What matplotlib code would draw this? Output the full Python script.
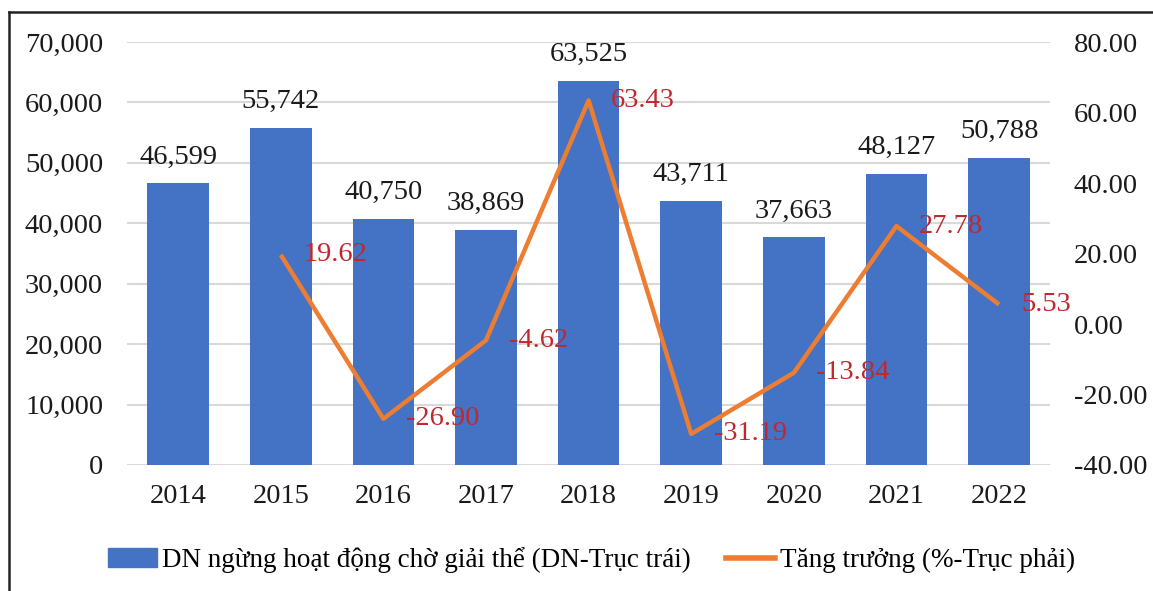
import matplotlib.pyplot as plt
from matplotlib.patches import Rectangle
from matplotlib.lines import Line2D
import numpy as np

years = ["2014", "2015", "2016", "2017", "2018", "2019", "2020", "2021", "2022"]
dn_count = [46599, 55742, 40750, 38869, 63525, 43711, 37663, 48127, 50788]
growth_years = ["2015", "2016", "2017", "2018", "2019", "2020", "2021", "2022"]
growth = [19.62, -26.90, -4.62, 63.43, -31.19, -13.84, 27.78, 5.53]

bar_label = "DN ngừng hoạt động chờ giải thể (DN-Trục trái)"
line_label = "Tăng trưởng (%-Trục phải)"

blue = "#4472C4"
orange = "#ED7D31"
red = "#C0282D"

plt.rcParams["font.family"] = ["Liberation Serif", "DejaVu Serif"]

fig = plt.figure(figsize=(11.53, 5.91), dpi=100)
ax = fig.add_axes([0.110, 0.2132, 0.801, 0.7157])
ax2 = ax.twinx()

x = np.arange(len(years))
ax.bar(x, dn_count, width=0.6, color=blue, zorder=3)
for xi, v in zip(x, dn_count):
    ax.text(xi, v + 2300, f"{v:,}", ha="center", va="bottom", fontsize=20.5, color="#1a1a1a")

ax.set_ylim(0, 70000)
ax.set_yticks(range(0, 70001, 10000))
ax.set_yticklabels([f"{t:,}" for t in range(0, 70001, 10000)])
ax.set_xlim(-0.5, len(years) - 0.5)
ax.set_xticks(x)
ax.set_xticklabels(years)
ax.grid(axis="y", color="#D9D9D9", linewidth=1.5, zorder=0)
ax.set_axisbelow(True)

gx = [years.index(y) for y in growth_years]
ax2.plot(gx, growth, color=orange, linewidth=3.2, solid_capstyle="butt", zorder=4)
for xi, v in zip(gx, growth):
    ax2.text(xi + 0.22, v, f"{v:.2f}", ha="left", va="center", fontsize=20.5, color=red)
ax2.set_ylim(-40, 80)
ax2.set_yticks(range(-40, 81, 20))
ax2.set_yticklabels([f"{t:.2f}" for t in range(-40, 81, 20)])

for a in (ax, ax2):
    for s in a.spines.values():
        s.set_visible(False)
    a.tick_params(length=0, labelsize=20.5, colors="#1a1a1a")
ax.tick_params(axis="y", pad=17)
ax2.tick_params(axis="y", pad=17)
ax.tick_params(axis="x", pad=14)

handles = [Rectangle((0, 0), 1, 1, color=blue),
           Line2D([0], [0], color=orange, linewidth=4)]
fig.legend(handles, [bar_label, line_label], loc="center", bbox_to_anchor=(0.513, 0.052),
           ncol=2, frameon=False, fontsize=19.5, handlelength=1.8, handleheight=0.7,
           columnspacing=1.3, handletextpad=0.2)

# outer frame (top and left visible)
fx = 9 / 1153
fy = 1 - 12 / 591
fig.add_artist(Line2D([fx, 1.0], [fy, fy], transform=fig.transFigure, color="#222222", linewidth=1.8))
fig.add_artist(Line2D([fx, fx], [0.0, fy], transform=fig.transFigure, color="#222222", linewidth=1.8))

fig.savefig("out.png", dpi=100)
